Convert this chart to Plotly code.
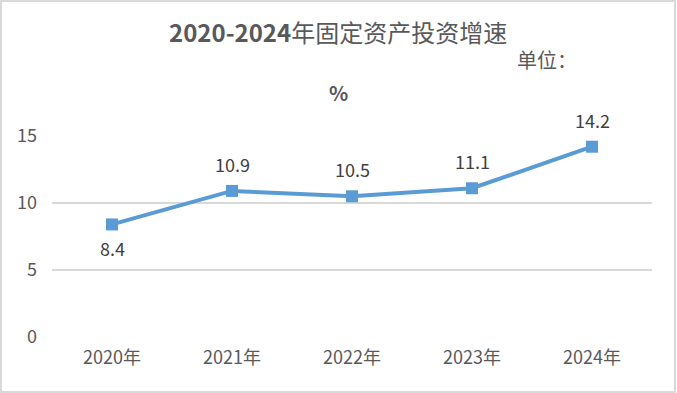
import plotly.graph_objects as go

years = ["2020年", "2021年", "2022年", "2023年", "2024年"]
growth = [8.4, 10.9, 10.5, 11.1, 14.2]
label_above = [False, True, True, True, True]
y_ticks = [0, 5, 10, 15]

FONT = "Noto Sans CJK SC, Noto Sans, sans-serif"

# plot area in pixels: x 52..652, y 136..337
PL, PR, PT, PB = 52, 652, 136, 337
def px(x):
    return (x - PL) / (PR - PL)
def py(y):
    return (PB - y) / (PB - PT)

fig = go.Figure()
fig.add_trace(go.Scatter(
    x=years, y=growth,
    mode="lines+markers",
    line=dict(color="#5B9BD5", width=4),
    marker=dict(symbol="square", size=12, color="#5B9BD5"),
    cliponaxis=False,
    hoverinfo="skip",
))

annotations = [
    dict(text="<b>2020-2024</b>年固定资产投资增速", xref="paper", yref="paper",
         x=px(338), y=py(32), xanchor="center", yanchor="middle",
         showarrow=False, font=dict(family=FONT, size=24, color="#595959")),
    dict(text="单位：", xref="paper", yref="paper",
         x=px(547), y=py(60), xanchor="center", yanchor="middle",
         showarrow=False, font=dict(family=FONT, size=20, color="#595959")),
    dict(text="<b>%</b>", xref="paper", yref="paper",
         x=px(338), y=py(92), xanchor="center", yanchor="middle",
         showarrow=False, font=dict(family=FONT, size=20, color="#595959")),
]
for yr, v, above in zip(years, growth, label_above):
    annotations.append(dict(
        text=f"{v:.1f}", x=yr, y=v, xref="x", yref="y",
        xanchor="center", yanchor="middle", showarrow=False,
        yshift=27 if above else -24,
        font=dict(family=FONT, size=18, color="#404040"),
    ))

fig.update_layout(
    width=677, height=393,
    paper_bgcolor="white", plot_bgcolor="white",
    margin=dict(l=PL, r=677 - PR, t=PT, b=393 - PB),
    showlegend=False,
    font=dict(family=FONT, color="#595959"),
    xaxis=dict(
        type="category", range=[-0.5, 4.5],
        showgrid=False, showline=False, zeroline=False,
        tickfont=dict(family=FONT, size=18, color="#595959"),
        ticks="", ticklabelstandoff=8,
    ),
    yaxis=dict(
        range=[0, 15], tickvals=y_ticks,
        showgrid=True, gridcolor="#D9D9D9", gridwidth=2,
        zeroline=False, showline=False,
        tickfont=dict(family=FONT, size=18, color="#595959"),
        ticks="", ticklabelstandoff=14,
    ),
    annotations=annotations,
)

# outer chart border
fig.add_shape(type="rect", xref="paper", yref="paper",
              x0=px(1), x1=px(675), y0=py(392), y1=py(1),
              line=dict(color="#D9D9D9", width=2), fillcolor="rgba(0,0,0,0)")

fig.write_html("out.html", config={"displayModeBar": False},
               post_script="document.body.style.margin='0';")
